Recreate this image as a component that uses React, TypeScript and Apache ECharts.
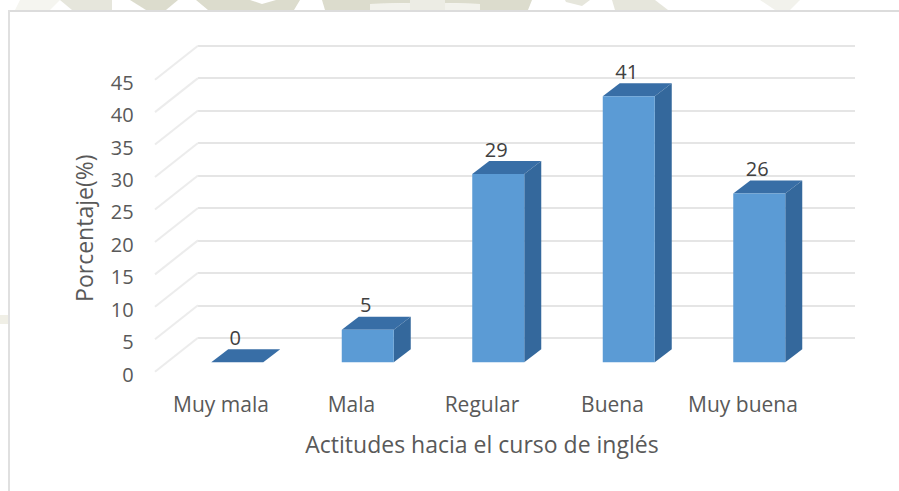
import React, { useEffect, useRef } from "react";
import * as echarts from "echarts";

const categories = ["Muy mala", "Mala", "Regular", "Buena", "Muy buena"];
const values = [0, 5, 29, 41, 26];
const yTicks = [0, 5, 10, 15, 20, 25, 30, 35, 40, 45];
const yAxisTitle = "Porcentaje(%)";
const xAxisTitle = "Actitudes hacia el curso de inglés";

const FONT = "'Open Sans'";
const BAR_W = 52;
const DEPTH_X = 17;
const DEPTH_Y = 13;

const watermark: [number[][], string][] = [
  [[[20, 0], [60, 0], [50, 10], [15, 10]], "#f5f5f0"],
  [[[60, 0], [112, 0], [112, 10], [72, 10]], "#e6e6dc"],
  [[[130, 0], [178, 0], [166, 10], [146, 10]], "#dcdccd"],
  [[[196, 0], [250, 0], [262, 4], [276, 0], [300, 0], [294, 10], [208, 10]], "#dcdccd"],
  [[[322, 0], [370, 0], [370, 10], [325, 10]], "#dcdccd"],
  [[[370, 0], [410, 0], [410, 3], [370, 4]], "#dcdccd"],
  [[[370, 4], [410, 3], [410, 10], [370, 10]], "#f2f2ec"],
  [[[410, 0], [445, 0], [445, 10], [410, 10]], "#ecece4"],
  [[[445, 0], [480, 0], [480, 4], [445, 3]], "#dcdccd"],
  [[[445, 3], [480, 4], [480, 10], [445, 10]], "#f2f2ec"],
  [[[480, 0], [532, 0], [528, 10], [480, 10]], "#dcdccd"],
  [[[565, 0], [590, 0], [582, 6], [566, 2]], "#e6e6dc"],
  [[[612, 0], [655, 0], [668, 10], [615, 10]], "#e6e6dc"],
  [[[760, 0], [800, 0], [790, 10], [775, 10]], "#f2f2ec"],
];

function renderDiagonal(_p: any, api: any) {
  const [x, y] = api.coord([0, api.value(1)]);
  return {
    type: "line",
    shape: { x1: x, y1: y, x2: x - 43, y2: y + 34 },
    style: { stroke: "#ececec", lineWidth: 2 },
  };
}

function renderBar(_p: any, api: any) {
  const v = api.value(1);
  const [cx, yTop] = api.coord([api.value(0), v]);
  const [, yBase] = api.coord([api.value(0), 0]);
  const l = cx - BAR_W / 2;
  const r = cx + BAR_W / 2;
  const poly = (points: number[][], fill: string) => ({
    type: "polygon",
    shape: { points },
    style: { fill },
  });
  return {
    type: "group",
    children: [
      poly([[l, yTop], [r, yTop], [r + DEPTH_X, yTop - DEPTH_Y], [l + DEPTH_X, yTop - DEPTH_Y]], "#386ea6"),
      poly([[r, yTop], [r + DEPTH_X, yTop - DEPTH_Y], [r + DEPTH_X, yBase - DEPTH_Y], [r, yBase]], "#34689c"),
      {
        type: "rect",
        shape: { x: l, y: yTop, width: BAR_W, height: yBase - yTop },
        style: { fill: "#5b9bd5" },
      },
      {
        type: "text",
        style: {
          x: cx - 2,
          y: yTop - 25,
          text: String(v),
          fill: "#404040",
          font: `20px ${FONT}`,
          align: "center",
          verticalAlign: "middle",
        },
      },
    ],
  };
}

export default function App() {
  const ref = useRef<HTMLDivElement>(null);

  useEffect(() => {
    const chart = echarts.init(ref.current!, undefined, { renderer: "svg" });
    const hiddenAxis = {
      show: true,
      axisLine: { show: false },
      axisTick: { show: false },
      axisLabel: { show: false },
      splitLine: { show: false },
    };
    const valueRange = { type: "value", min: 0, max: 45, interval: 5 };
    chart.setOption({
      animation: false,
      backgroundColor: "#ffffff",
      graphic: [
        ...watermark.map(([points, fill]) => ({
          type: "polygon",
          shape: { points },
          style: { fill },
          silent: true,
        })),
        { type: "rect", shape: { x: 0, y: 315, width: 8, height: 9 }, style: { fill: "#f0efe6" }, silent: true },
        { type: "rect", shape: { x: 8, y: 10, width: 891, height: 2 }, style: { fill: "#dcdcdc" }, silent: true },
        { type: "rect", shape: { x: 8, y: 10, width: 2, height: 481 }, style: { fill: "#e0e0e0" }, silent: true },
      ],
      grid: [
        // back wall
        { left: 198, top: 45.7, width: 657, height: 292 },
        // plane of the bars
        { left: 172, top: 70.3, width: 652.5, height: 292 },
        // front edge carrying the axis labels
        { left: 155.7, top: 82.2, width: 652.5, height: 292 },
      ],
      xAxis: [
        { gridIndex: 0, type: "value", min: 0, max: 1, ...hiddenAxis },
        { gridIndex: 1, type: "category", data: categories, ...hiddenAxis },
        {
          gridIndex: 2,
          type: "category",
          data: categories,
          axisLine: { show: false },
          axisTick: { show: false },
          axisLabel: { color: "#595959", fontFamily: "Open Sans", fontSize: 21, margin: 19, interval: 0 },
          name: xAxisTitle,
          nameLocation: "middle",
          nameGap: 58,
          nameTextStyle: { color: "#595959", fontFamily: "Open Sans", fontSize: 23 },
        },
      ],
      yAxis: [
        {
          gridIndex: 0,
          ...valueRange,
          axisLine: { show: false },
          axisTick: { show: false },
          axisLabel: { show: false },
          splitLine: { show: true, lineStyle: { color: "#dcdcdc", width: 1.5 } },
        },
        { gridIndex: 1, ...valueRange, ...hiddenAxis },
        {
          gridIndex: 2,
          ...valueRange,
          axisLine: { show: false },
          axisTick: { show: false },
          splitLine: { show: false },
          axisLabel: { color: "#595959", fontFamily: "Open Sans", fontSize: 20, margin: 22 },
          name: yAxisTitle,
          nameLocation: "middle",
          nameGap: 60,
          nameTextStyle: { color: "#595959", fontFamily: "Open Sans", fontSize: 23 },
        },
      ],
      series: [
        {
          type: "custom",
          xAxisIndex: 0,
          yAxisIndex: 0,
          renderItem: renderDiagonal,
          data: yTicks.map((t) => [0, t]),
          silent: true,
          clip: false,
        },
        {
          type: "custom",
          xAxisIndex: 1,
          yAxisIndex: 1,
          renderItem: renderBar,
          data: values.map((v, i) => [i, v]),
          silent: true,
          clip: false,
          z: 5,
        },
      ],
    });
    return () => chart.dispose();
  }, []);

  return (
    <div
      ref={ref}
      style={{ position: "fixed", left: 0, top: 0, width: 899, height: 491 }}
    />
  );
}
